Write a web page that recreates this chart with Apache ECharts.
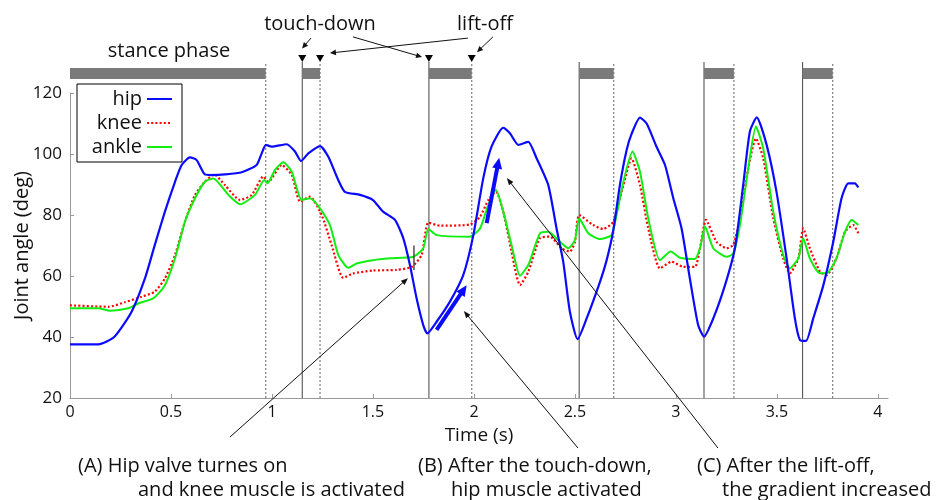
<!DOCTYPE html>
<html><head><meta charset="utf-8">
<script src="https://cdn.jsdelivr.net/npm/echarts@6/dist/echarts.min.js"></script>
<style>html,body{margin:0;padding:0;background:#fff}#c{width:946px;height:500px}</style>
</head><body><div id="c"></div>
<script>
// ---- data (time s, joint angle deg) ----
const hip = [[0,37.6],[0.14,37.6],[0.22,40.1],[0.305,48.3],[0.371,59.2],[0.42,70.2],[0.47,81.1],[0.52,90.9],[0.553,96.4],[0.594,98.9],[0.627,98.0],[0.668,93.3],[0.70,93.1],[0.767,93.3],[0.85,94.0],[0.924,96.4],[0.949,100.2],[0.97,103.0],[0.998,102.4],[1.073,103.2],[1.114,100.8],[1.144,97.7],[1.18,100.2],[1.238,102.6],[1.279,99.1],[1.328,91.5],[1.361,87.6],[1.436,86.6],[1.50,84.9],[1.55,81.1],[1.609,78.4],[1.65,72.4],[1.683,63.6],[1.716,52.7],[1.749,43.9],[1.769,41.2],[1.815,45.0],[1.881,51.6],[1.947,60.3],[1.997,73.4],[2.046,92.0],[2.087,102.4],[2.145,108.6],[2.178,106.8],[2.22,103.0],[2.269,104.0],[2.31,98.6],[2.368,89.8],[2.409,75.6],[2.442,64.7],[2.475,48.3],[2.513,39.3],[2.558,46.1],[2.624,58.1],[2.657,65.2],[2.69,75.0],[2.723,90.0],[2.756,101.3],[2.78,106.5],[2.822,111.9],[2.855,110.0],[2.904,102.4],[2.946,96.4],[2.987,85.5],[3.028,75.6],[3.069,59.2],[3.11,43.9],[3.139,40.1],[3.185,46.1],[3.243,57.0],[3.292,69.1],[3.333,89.8],[3.366,107.3],[3.40,112.0],[3.449,103.0],[3.498,87.6],[3.548,65.8],[3.589,46.1],[3.614,39.0],[3.644,38.7],[3.68,46.1],[3.73,57.0],[3.779,71.2],[3.82,85.5],[3.853,90.4],[3.886,90.4],[3.903,89.0]];
const knee = [[0,50.4],[0.19,49.9],[0.272,51.4],[0.355,53.2],[0.42,54.9],[0.47,59.2],[0.52,66.9],[0.569,77.8],[0.619,86.6],[0.668,90.9],[0.714,93.3],[0.767,89.8],[0.842,84.9],[0.90,86.6],[0.957,92.6],[0.982,90.9],[1.048,96.4],[1.098,93.1],[1.139,84.4],[1.188,86.0],[1.246,80.0],[1.295,70.2],[1.353,59.4],[1.40,60.8],[1.50,61.8],[1.617,62.0],[1.692,63.0],[1.741,66.9],[1.774,77.5],[1.832,76.5],[1.98,76.9],[2.03,79.4],[2.071,84.9],[2.109,87.6],[2.145,81.1],[2.186,68.0],[2.228,57.0],[2.269,61.4],[2.327,72.4],[2.376,72.9],[2.434,69.1],[2.475,68.0],[2.50,71.2],[2.521,80.0],[2.59,76.7],[2.64,75.4],[2.69,77.8],[2.74,89.8],[2.78,98.6],[2.822,89.8],[2.863,75.6],[2.921,62.5],[2.979,64.7],[3.036,63.0],[3.094,63.0],[3.119,69.1],[3.149,78.4],[3.201,71.2],[3.251,69.1],[3.284,70.2],[3.317,78.9],[3.358,95.3],[3.396,105.1],[3.432,98.6],[3.482,78.9],[3.531,65.8],[3.564,60.9],[3.606,65.8],[3.63,75.6],[3.663,69.1],[3.713,61.4],[3.746,60.3],[3.795,65.8],[3.837,74.5],[3.878,76.7],[3.903,74.0]];
const ankle = [[0,49.4],[0.14,49.4],[0.198,48.6],[0.289,49.4],[0.338,51.0],[0.413,52.7],[0.47,57.0],[0.52,65.8],[0.569,77.8],[0.619,85.5],[0.668,90.9],[0.71,92.0],[0.784,86.6],[0.842,83.5],[0.916,86.6],[0.962,91.5],[0.978,90.4],[1.015,94.8],[1.056,97.3],[1.098,94.2],[1.147,84.9],[1.188,85.5],[1.238,82.2],[1.287,76.7],[1.328,66.9],[1.361,63.6],[1.378,62.7],[1.419,64.1],[1.50,65.2],[1.584,65.8],[1.70,66.3],[1.749,69.1],[1.774,75.4],[1.815,73.4],[1.98,72.9],[2.03,75.6],[2.071,83.3],[2.109,88.2],[2.145,81.1],[2.186,70.2],[2.228,60.1],[2.269,63.6],[2.327,74.0],[2.368,74.5],[2.426,71.2],[2.467,69.1],[2.50,71.8],[2.521,78.9],[2.566,74.0],[2.624,72.1],[2.681,73.4],[2.70,78.0],[2.74,90.9],[2.785,100.8],[2.822,94.2],[2.863,78.9],[2.921,65.2],[2.974,68.0],[3.02,66.0],[3.094,65.6],[3.119,69.1],[3.144,76.2],[3.185,69.1],[3.251,66.3],[3.284,67.4],[3.317,76.7],[3.358,95.3],[3.396,109.0],[3.432,101.9],[3.482,81.1],[3.531,66.9],[3.564,62.5],[3.606,65.8],[3.63,72.4],[3.663,65.8],[3.713,60.9],[3.746,60.9],[3.795,65.8],[3.837,74.5],[3.87,78.4],[3.903,76.7]];
const touchDown = [1.150, 1.777, 2.521, 3.139, 3.627];
const liftOff = [0.969, 1.238, 1.989, 2.692, 3.287, 3.776];
const stance = [[0,0.969],[1.150,1.238],[1.777,1.989],[2.521,2.692],[3.139,3.287],[3.627,3.776]];
const markedEvents = [1.150, 1.238, 1.777, 1.989];
const xTicks = [0,0.5,1,1.5,2,2.5,3,3.5,4];
const yTicks = [20,40,60,80,100,120];
const valveOn = 1.703;

const FONT = '"Open Sans", "Noto Sans", sans-serif';
const chart = echarts.init(document.getElementById('c'), null, {renderer:'canvas'});

function eventLineSeries(times, dashed){
  return {
    type:'custom', coordinateSystem:'cartesian2d', silent:true, z:1,
    data: times.map(t=>[t]), encode:{x:0},
    renderItem(params, api){
      const t = api.value(0);
      const p0 = api.coord([t, yTicks[0]]);
      const p1 = api.coord([t, yTicks[yTicks.length-1]]);
      return {type:'line', shape:{x1:p0[0], y1:p0[1], x2:p1[0], y2:p1[1]-31},
        style:{stroke: dashed ? '#888' : '#555', lineWidth: dashed ? 1.3 : 1.1, lineDash: dashed ? [2,2] : null}};
    }
  };
}

const option = {
  animation:false,
  backgroundColor:'#fff',
  textStyle:{fontFamily:FONT},
  grid:{left:70, right:58, top:93, bottom:102, containLabel:false, outerBoundsMode:'none'},
  legend:{
    orient:'vertical', left:77, top:84, align:'right',
    data:['hip','knee','ankle'],
    backgroundColor:'#fff', borderColor:'#000', borderWidth:1, borderRadius:0,
    padding:[5,9,5,9], itemGap:4, itemWidth:25, itemHeight:20,
    itemStyle:{opacity:0},
    textStyle:{fontSize:20, color:'#111', width:56, lineHeight:20, fontFamily:FONT},
    selectedMode:false
  },
  xAxis:{
    type:'value', min:0, max:4.05, interval:0.5,
    name:'Time (s)', nameLocation:'middle', nameGap:28, nameMoveOverlap:false,
    nameTextStyle:{fontSize:19, color:'#111', fontFamily:FONT},
    splitLine:{show:false},
    axisLine:{show:true, lineStyle:{color:'#999', width:1}},
    axisTick:{show:true, inside:true, length:4, lineStyle:{color:'#999'}, customValues:xTicks},
    axisLabel:{fontSize:16, color:'#111', margin:6, fontFamily:FONT, customValues:xTicks,
      formatter:v=> xTicks.indexOf(+v.toFixed(3))>=0 ? String(v) : ''}
  },
  yAxis:{
    type:'value', min:20, max:120, interval:20,
    name:'Joint angle (deg)', nameLocation:'middle', nameGap:38, nameRotate:90, nameMoveOverlap:false,
    nameTextStyle:{fontSize:20, color:'#111', fontFamily:FONT},
    splitLine:{show:false},
    axisLine:{show:true, lineStyle:{color:'#999', width:1}},
    axisTick:{show:true, inside:true, length:4, lineStyle:{color:'#999'}},
    axisLabel:{fontSize:17, color:'#111', margin:8, fontFamily:FONT}
  },
  series:[
    eventLineSeries(touchDown, false),
    eventLineSeries(liftOff, true),
    {
      type:'custom', coordinateSystem:'cartesian2d', silent:true, z:1,
      data: stance, encode:{x:[0,1]},
      renderItem(params, api){
        const a = api.coord([api.value(0), yTicks[yTicks.length-1]]);
        const b = api.coord([api.value(1), yTicks[yTicks.length-1]]);
        return {type:'rect', shape:{x:a[0], y:a[1]-25, width:b[0]-a[0], height:11}, style:{fill:'#7a7a7a'}};
      }
    },
    {
      type:'custom', coordinateSystem:'cartesian2d', silent:true, z:3,
      data: markedEvents.map(t=>[t]), encode:{x:0},
      renderItem(params, api){
        const p = api.coord([api.value(0), yTicks[yTicks.length-1]]);
        const x = p[0], y = p[1]-31;
        return {type:'polygon', shape:{points:[[x-4,y-7],[x+4,y-7],[x,y]]}, style:{fill:'#000'}};
      }
    },
    {name:'knee', type:'line', data:knee, showSymbol:false, symbol:'none', smooth:0.2, z:4,
      color:'#ff0000', lineStyle:{color:'#ff0000', width:2.2, type:[2,2.2]}},
    {name:'ankle', type:'line', data:ankle, showSymbol:false, symbol:'none', smooth:0.2, z:5,
      color:'#11ee11', lineStyle:{color:'#11ee11', width:2}},
    {name:'hip', type:'line', data:hip, showSymbol:false, symbol:'none', smooth:0.2, z:6,
      color:'#0a0aff', lineStyle:{color:'#0a0aff', width:2.2}}
  ]
};
chart.setOption(option);

// ---- annotations ----
const topArrows = [
  [[1.193,138.0],[1.149,134.6]],
  [[1.401,138.4],[1.743,131.8]],
  [[1.970,138.0],[1.287,133.1]],
  [[2.094,138.4],[2.015,133.4]]
];
const bottomArrows = [
  [[0.792,7.2],[1.673,59.3]],
  [[2.515,3.6],[1.950,48.5]],
  [[3.208,3.6],[2.163,92.1]]
];
const blueArrows = [
  [[1.815,42.3],[1.964,57.0]],
  [[2.063,77.3],[2.125,98.8]]
];
function px(p){ return chart.convertToPixel({gridIndex:0}, p); }
function arrow(a, b, color, lw, hl, hw){
  const p = px(a), q = px(b);
  const dx = q[0]-p[0], dy = q[1]-p[1], L = Math.hypot(dx,dy);
  const ux = dx/L, uy = dy/L;
  const bx = q[0]-ux*hl, by = q[1]-uy*hl;
  return [
    {type:'line', silent:true, z:10, shape:{x1:p[0], y1:p[1], x2:bx+ux*1, y2:by+uy*1}, style:{stroke:color, lineWidth:lw}},
    {type:'polygon', silent:true, z:10, shape:{points:[[q[0],q[1]],[bx-uy*hw,by+ux*hw],[bx+uy*hw,by-ux*hw]]}, style:{fill:color}}
  ];
}
function txt(s, x, y, align){
  return {type:'text', silent:true, z:10, style:{text:s, x:x, y:y, fill:'#111',
    font:'20px ' + FONT, textAlign:align || 'left', textVerticalAlign:'middle'}};
}
let g = [];
topArrows.forEach(a=> g = g.concat(arrow(a[0], a[1], '#111', 1, 6, 2.8)));
bottomArrows.forEach(a=> g = g.concat(arrow(a[0], a[1], '#111', 1, 7, 2.8)));
blueArrows.forEach(a=> g = g.concat(arrow(a[0], a[1], '#0a0aff', 4, 11, 5)));
const v0 = px([valveOn, 62]), v1 = px([valveOn, 70]);
g.push({type:'line', silent:true, z:10, shape:{x1:v0[0], y1:v0[1], x2:v1[0], y2:v1[1]}, style:{stroke:'#333', lineWidth:1.3}});
g.push(txt('stance phase', 169, 51, 'center'));
g.push(txt('touch-down', 320, 24, 'center'));
g.push(txt('lift-off', 485, 24, 'center'));
g.push(txt('(A) Hip valve turnes on', 78, 466));
g.push(txt('and knee muscle is activated', 138, 490));
g.push(txt('(B) After the touch-down,', 418, 466));
g.push(txt('hip muscle activated', 451, 490));
g.push(txt('(C) After the lift-off,', 697, 466));
g.push(txt('the gradient increased', 722, 490));
chart.setOption({graphic:{elements:g}});
</script>
</body></html>
